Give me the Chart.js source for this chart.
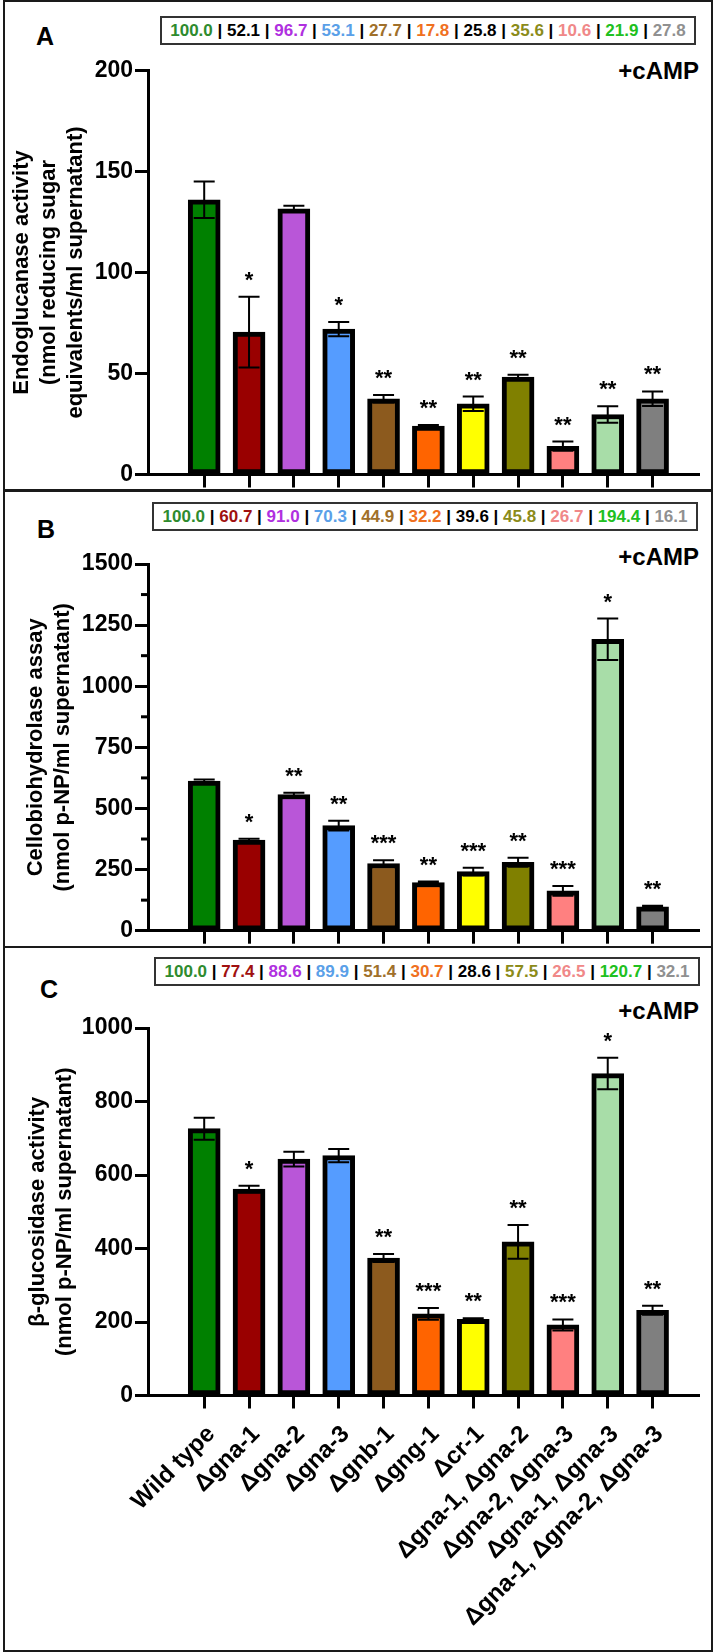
<!DOCTYPE html>
<html>
<head>
<meta charset="utf-8">
<script src="https://cdn.jsdelivr.net/npm/chart.js@4.4.1/dist/chart.umd.min.js"></script>
<style>
    html, body { margin: 0; padding: 0; background: #fff; }
    body { width: 716px; height: 1652px; position: relative; overflow: hidden; font-family: 'Liberation Sans', Arial, sans-serif; }
    .frame { position: absolute; left: 3px; width: 710px; border: 2px solid #1a1a1a; box-sizing: border-box; }
    .panel { position: absolute; left: 0; }
    .letter { position: absolute; font-weight: bold; font-size: 25px; line-height: 1; }
    .camp { position: absolute; right: 17px; font-weight: bold; font-size: 24px; line-height: 1; }
    .vals { position: absolute; border: 2px solid #333; box-sizing: border-box; font-weight: bold; font-size: 17px; line-height: 25px; text-align: center; white-space: nowrap; }
</style>
</head>
<body>
<div class="frame" style="top:0; height:491px;"></div>
<div class="frame" style="top:490px; height:458px;"></div>
<div class="frame" style="top:946px; height:706px;"></div>

<div class="letter" style="left:36px; top:24px;">A</div>
<div class="letter" style="left:37px; top:517px;">B</div>
<div class="letter" style="left:40px; top:977px;">C</div>

<div class="camp" style="top:59px;">+cAMP</div>
<div class="camp" style="top:545px;">+cAMP</div>
<div class="camp" style="top:999px;">+cAMP</div>

<div class="vals" id="valsA" style="left:160px; top:16px; width:536px; height:29px;"></div>
<div class="vals" id="valsB" style="left:152px; top:502px; width:546px; height:29px;"></div>
<div class="vals" id="valsC" style="left:154px; top:957px; width:546px; height:29px;"></div>

<canvas class="panel" id="chartA" width="716" height="491" style="top:0;"></canvas>
<canvas class="panel" id="chartB" width="716" height="456" style="top:491px;"></canvas>
<canvas class="panel" id="chartC" width="716" height="705" style="top:947px;"></canvas>

<script>
// strains (x categories)
const strains = ['Wild type', 'Δgna-1', 'Δgna-2', 'Δgna-3', 'Δgnb-1', 'Δgng-1', 'Δcr-1',
    'Δgna-1, Δgna-2', 'Δgna-2, Δgna-3', 'Δgna-1, Δgna-3', 'Δgna-1, Δgna-2, Δgna-3'];

const barColors = ['#008000', '#990000', '#B956D8', '#559CFF', '#8C5A1E', '#FF6400',
    '#FFFF00', '#808000', '#FF8080', '#A8DDA8', '#7F7F7F'];

// A - endoglucanase
const endoMean = [136, 70.5, 131.5, 72, 37.5, 24, 35, 48.2, 14, 29.7, 37.5];
const endoSem = [9, 17.5, 1.5, 3.5, 1.8, 0.5, 3.6, 1.2, 2.3, 4.1, 3.6];
const endoStars = ['', '*', '', '*', '**', '**', '**', '**', '**', '**', '**'];
const endoPct = ['100.0', '52.1', '96.7', '53.1', '27.7', '17.8', '25.8', '35.6', '10.6', '21.9', '27.8'];
const endoTicks = [0, 50, 100, 150, 200];

// B - cellobiohydrolase
const cbhMean = [612, 371, 557, 430, 275, 197, 242, 280, 163, 1192, 98];
const cbhSem = [7, 5, 7, 20, 13, 4, 16, 18, 20, 85, 4];
const cbhStars = ['', '*', '**', '**', '***', '**', '***', '**', '***', '*', '**'];
const cbhPct = ['100.0', '60.7', '91.0', '70.3', '44.9', '32.2', '39.6', '45.8', '26.7', '194.4', '16.1'];
const cbhTicks = [0, 250, 500, 750, 1000, 1250, 1500];
const cbhMinorTicks = [125, 375, 625, 875, 1125, 1375];

// C - beta-glucosidase
const bglMean = [726, 562, 643, 653, 374, 222, 207, 418, 192, 876, 232];
const bglSem = [30, 9, 20, 18, 11, 16, 3, 46, 15, 43, 12];
const bglStars = ['', '*', '', '', '**', '***', '**', '**', '***', '*', '**'];
const bglPct = ['100.0', '77.4', '88.6', '89.9', '51.4', '30.7', '28.6', '57.5', '26.5', '120.7', '32.1'];
const bglTicks = [0, 200, 400, 600, 800, 1000];

const pctColorsA = ['#2E8B2E', '#000000', '#B030E0', '#5AA0E8', '#A0702A', '#F07020',
    '#000000', '#8B8B1A', '#F08888', '#20C020', '#909090'];
const pctColorsBC = ['#2E8B2E', '#A01010', '#B030E0', '#5AA0E8', '#A0702A', '#F07020',
    '#000000', '#8B8B1A', '#F08888', '#20C020', '#909090'];

const FONT = "'Liberation Sans', Arial, sans-serif";

function fillVals(id, pct, colors) {
    const box = document.getElementById(id);
    box.innerHTML = pct.map((v, i) => `<span style="color:${colors[i]}">${v}</span>`).join(' | ');
}
fillVals('valsA', endoPct, pctColorsA);
fillVals('valsB', cbhPct, pctColorsBC);
fillVals('valsC', bglPct, pctColorsBC);

function makePanel(canvasId, p) {
    const ctx = document.getElementById(canvasId).getContext('2d');
    const H = ctx.canvas.height;

    const extras = {
        id: 'extras' + canvasId,
        afterDatasetsDraw(chart) {
            const c = chart.ctx;
            const ys = chart.scales.y;
            const meta = chart.getDatasetMeta(0);
            c.save();
            c.strokeStyle = '#000';
            c.fillStyle = '#000';
            c.lineWidth = 2;
            meta.data.forEach((bar, i) => {
                const x = bar.x;
                const top = ys.getPixelForValue(p.mean[i] + p.sem[i]);
                const bot = ys.getPixelForValue(p.mean[i] - p.sem[i]);
                c.beginPath();
                c.moveTo(x, top); c.lineTo(x, bot);
                c.moveTo(x - 10.5, top); c.lineTo(x + 10.5, top);
                c.moveTo(x - 10.5, bot); c.lineTo(x + 10.5, bot);
                c.stroke();
                if (p.stars[i]) {
                    c.font = 'bold 22px ' + FONT;
                    c.textAlign = 'center';
                    c.textBaseline = 'alphabetic';
                    c.fillText(p.stars[i], x, top - 10);
                }
            });
            c.restore();
        },
        afterDraw(chart) {
            const c = chart.ctx;
            const ys = chart.scales.y;
            const xs = chart.scales.x;
            const area = chart.chartArea;
            c.save();
            c.strokeStyle = '#000';
            c.fillStyle = '#000';
            // minor ticks
            c.lineWidth = 3;
            (p.minor || []).forEach(v => {
                const y = ys.getPixelForValue(v);
                c.beginPath();
                c.moveTo(area.left - 7, y); c.lineTo(area.left, y);
                c.stroke();
            });
            // y title
            const cy = (area.top + area.bottom) / 2;
            c.font = 'bold 22px ' + FONT;
            c.textAlign = 'center';
            c.textBaseline = 'middle';
            const n = p.title.length;
            p.title.forEach((line, k) => {
                c.save();
                c.translate(p.titleX - (n - 1 - k) * 27, cy);
                c.rotate(-Math.PI / 2);
                c.fillText(line, 0, 0);
                c.restore();
            });
            // x labels, rotated 45 degrees, end anchored under tick
            if (p.showLabels) {
                c.font = 'bold 24px ' + FONT;
                c.textAlign = 'right';
                c.textBaseline = 'middle';
                strains.forEach((lab, i) => {
                    const x = xs.getPixelForValue(i);
                    c.save();
                    c.translate(x + 7, area.bottom + 35);
                    c.rotate(-Math.PI / 4);
                    c.fillText(lab, 0, 0);
                    c.restore();
                });
            }
            c.restore();
        }
    };

    new Chart(ctx, {
        type: 'bar',
        data: {
            datasets: [{
                data: p.mean.map((v, i) => ({ x: i, y: v })),
                backgroundColor: barColors,
                borderColor: '#000',
                borderWidth: 5,
                borderSkipped: false,
                barThickness: 32
            }]
        },
        options: {
            responsive: false,
            animation: false,
            events: [],
            layout: {
                padding: { top: p.axisTop, right: 17, bottom: H - p.axisZero - 14, left: 0 }
            },
            plugins: {
                legend: { display: false },
                tooltip: { enabled: false }
            },
            scales: {
                x: {
                    type: 'linear',
                    min: -0.695,
                    max: 10.477,
                    afterBuildTicks: s => { s.ticks = strains.map((_, i) => ({ value: i })); },
                    afterFit: s => { s.height = 14; },
                    ticks: { display: false },
                    grid: { offset: false, drawOnChartArea: false, drawTicks: true, tickLength: 13, tickWidth: 3, tickColor: '#000' },
                    border: { display: true, color: '#000', width: 3 }
                },
                y: {
                    min: 0,
                    max: p.ticks[p.ticks.length - 1],
                    afterBuildTicks: s => { s.ticks = p.ticks.map(v => ({ value: v })); },
                    afterFit: s => { s.width = 148; },
                    ticks: {
                        color: '#000',
                        padding: 2,
                        font: { family: FONT, size: 23, weight: 'bold' },
                        callback: v => String(v)
                    },
                    grid: { drawOnChartArea: false, drawTicks: true, tickLength: 13, tickWidth: 3, tickColor: '#000' },
                    border: { display: true, color: '#000', width: 3 }
                }
            }
        },
        plugins: [extras]
    });
}

makePanel('chartA', {
    mean: endoMean, sem: endoSem, stars: endoStars, ticks: endoTicks,
    axisTop: 70.5, axisZero: 474.5, titleX: 76,
    title: ['Endoglucanase activity', '(nmol reducing sugar', 'equivalents/ml supernatant)']
});
makePanel('chartB', {
    mean: cbhMean, sem: cbhSem, stars: cbhStars, ticks: cbhTicks, minor: cbhMinorTicks,
    axisTop: 73, axisZero: 439.7, titleX: 62.5,
    title: ['Cellobiohydrolase assay', '(nmol p-NP/ml supernatant)']
});
makePanel('chartC', {
    mean: bglMean, sem: bglSem, stars: bglStars, ticks: bglTicks,
    axisTop: 81, axisZero: 448.5, titleX: 64.5, showLabels: true,
    title: ['β-glucosidase activity', '(nmol p-NP/ml supernatant)']
});
</script>
</body>
</html>
